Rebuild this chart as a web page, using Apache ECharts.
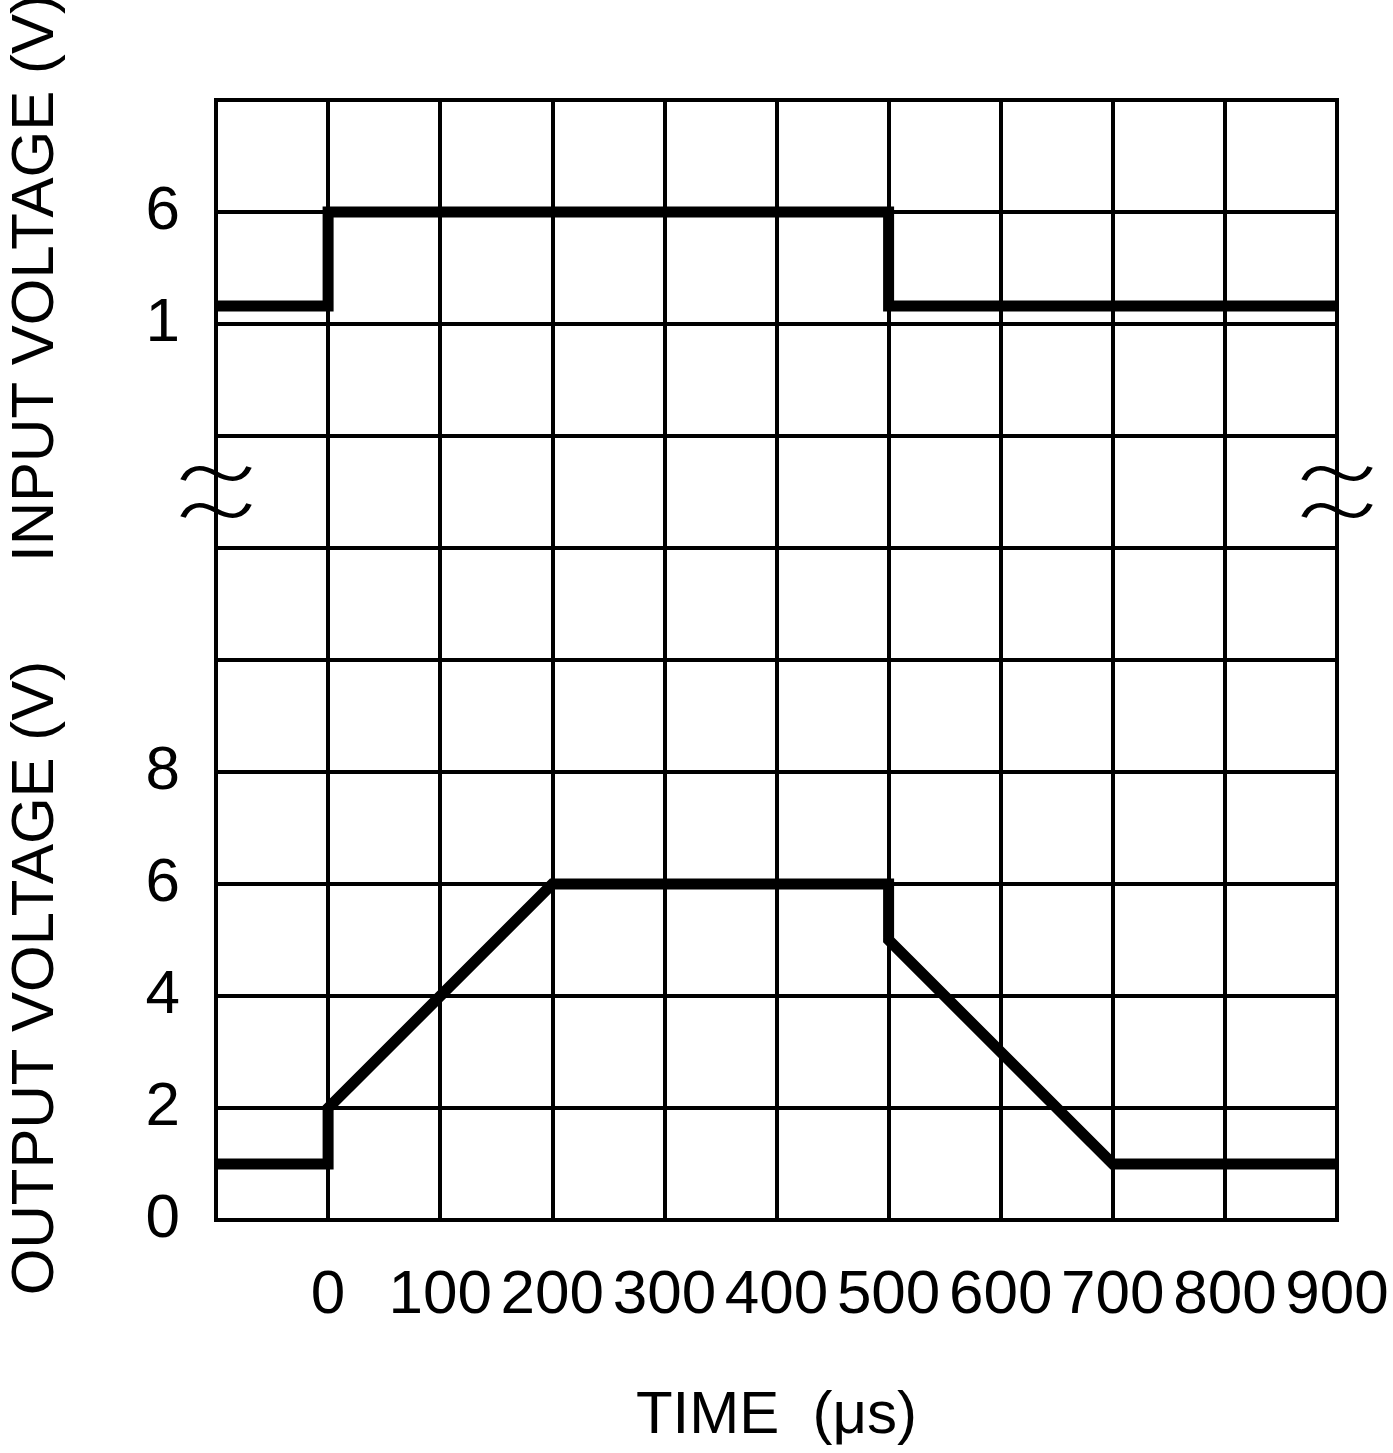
<!DOCTYPE html>
<html>
<head>
<meta charset="utf-8">
<script src="https://cdn.jsdelivr.net/npm/echarts@6/dist/echarts.min.js"></script>
<style>
html,body{margin:0;padding:0;background:#fff;}
#chart{width:1393px;height:1453px;}
</style>
</head>
<body>
<div id="chart"></div>
<script>
// ---- data ----
const timeMin = -100;
const timeMax = 900;
const timeInterval = 100;
const outputTickLabels = [0, 2, 4, 6, 8];
const inputTickLabels = [1, 6];
// input voltage step (time µs, volts)
const inputTime = [-100, 0, 0, 500, 500, 900];
const inputVolts = [1.8, 1.8, 6, 6, 1.8, 1.8];
// output voltage (time µs, volts)
const outputTime = [-100, 0, 0, 200, 500, 500, 700, 900];
const outputVolts = [1, 1, 2, 6, 6, 5, 1, 1];
// axis-break marks (time µs, output-axis value)
const breakTime = [-100, 900];
const breakLevel = [13, 13];

const FONT = 'Liberation Sans';
const chart = echarts.init(document.getElementById('chart'), null, {renderer: 'canvas'});

const zip = (a, b) => a.map((v, i) => [v, b[i]]);
const breakPath = 'path://M0,14 C6,2 18,0 34,8 C50,16 62,14 68,2 M0,48 C6,36 18,34 34,42 C50,50 62,48 68,36';

chart.setOption({
  backgroundColor: '#fff',
  animation: false,
  grid: {
    left: 216, right: 56, top: 100, bottom: 233,
    show: true, borderColor: '#000', borderWidth: 4, backgroundColor: 'transparent'
  },
  xAxis: {
    type: 'value',
    min: timeMin, max: timeMax, interval: timeInterval,
    name: 'TIME  (μs)',
    nameLocation: 'middle',
    nameGap: 166,
    nameTextStyle: {fontFamily: FONT, fontSize: 60, color: '#000'},
    axisLine: {show: true, lineStyle: {color: '#000', width: 4}},
    axisTick: {show: false},
    splitLine: {show: true, lineStyle: {color: '#000', width: 4}},
    axisLabel: {
      fontFamily: FONT, fontSize: 62, color: '#000', margin: 45,
      showMinLabel: true, showMaxLabel: true,
      formatter: v => (v < 0 ? '' : String(v))
    }
  },
  yAxis: [
    {
      type: 'value', min: 0, max: 20, interval: 2,
      axisLine: {show: true, lineStyle: {color: '#000', width: 4}},
      axisTick: {show: false},
      splitLine: {show: true, lineStyle: {color: '#000', width: 4}},
      axisLabel: {
        fontFamily: FONT, fontSize: 62, color: '#000', margin: 36,
        formatter: v => (outputTickLabels.includes(v) ? String(v) : '')
      }
    },
    {
      type: 'value', min: -39, max: 11, interval: 5, position: 'left',
      axisLine: {show: false},
      axisTick: {show: false},
      splitLine: {show: false},
      axisLabel: {
        fontFamily: FONT, fontSize: 62, color: '#000', margin: 36,
        formatter: v => (inputTickLabels.includes(v) ? String(v) : '')
      }
    }
  ],
  graphic: [
    {
      type: 'text', x: 36, y: 278, rotation: Math.PI / 2,
      style: {text: 'INPUT VOLTAGE (V)', font: '60px "' + FONT + '"', fill: '#000',
              textAlign: 'center', textVerticalAlign: 'middle'}
    },
    {
      type: 'text', x: 36, y: 978, rotation: Math.PI / 2,
      style: {text: 'OUTPUT VOLTAGE (V)', font: '60px "' + FONT + '"', fill: '#000',
              textAlign: 'center', textVerticalAlign: 'middle'}
    }
  ],
  series: [
    {
      name: 'Input', type: 'line', yAxisIndex: 1,
      data: zip(inputTime, inputVolts),
      symbol: 'none', clip: false,
      lineStyle: {color: '#000', width: 11, cap: 'butt', join: 'miter'}
    },
    {
      name: 'Output', type: 'line', yAxisIndex: 0,
      data: zip(outputTime, outputVolts),
      symbol: 'none', clip: false,
      lineStyle: {color: '#000', width: 11, cap: 'butt', join: 'miter'}
    },
    {
      name: 'Break', type: 'scatter', yAxisIndex: 0,
      data: zip(breakTime, breakLevel),
      symbol: breakPath, symbolSize: [66, 50], clip: false,
      itemStyle: {color: 'transparent', borderColor: '#000', borderWidth: 5, opacity: 1}
    }
  ]
});
</script>
</body>
</html>
